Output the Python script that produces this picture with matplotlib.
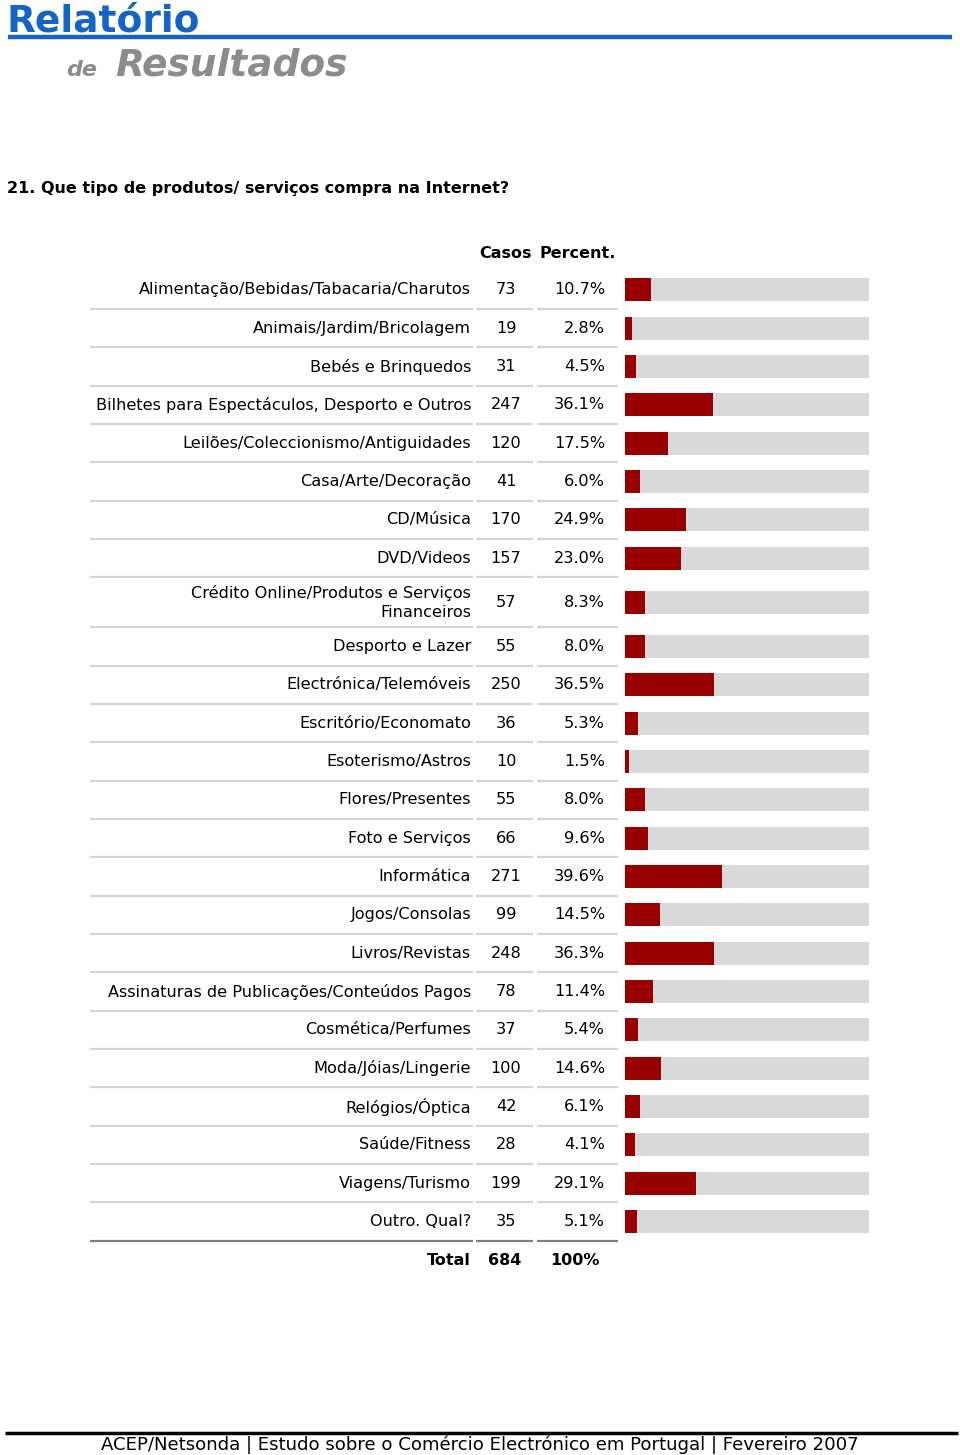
import numpy as np
import matplotlib
matplotlib.use('Agg')
import matplotlib.pyplot as plt

categories = ['Alimentação/Bebidas/Tabacaria/Charutos', 'Animais/Jardim/Bricolagem',
              'Bebés e Brinquedos', 'Bilhetes para Espectáculos, Desporto e Outros',
              'Leilões/Coleccionismo/Antiguidades', 'Casa/Arte/Decoração', 'CD/Música',
              'DVD/Videos', 'Crédito Online/Produtos e Serviços\nFinanceiros',
              'Desporto e Lazer', 'Electrónica/Telemóveis', 'Escritório/Economato',
              'Esoterismo/Astros', 'Flores/Presentes', 'Foto e Serviços', 'Informática',
              'Jogos/Consolas', 'Livros/Revistas',
              'Assinaturas de Publicações/Conteúdos Pagos', 'Cosmética/Perfumes',
              'Moda/Jóias/Lingerie', 'Relógios/Óptica', 'Saúde/Fitness',
              'Viagens/Turismo', 'Outro. Qual?']
casos = [73, 19, 31, 247, 120, 41, 170, 157, 57, 55, 250, 36, 10, 55, 66, 271, 99,
         248, 78, 37, 100, 42, 28, 199, 35]
percent = [10.7, 2.8, 4.5, 36.1, 17.5, 6.0, 24.9, 23.0, 8.3, 8.0, 36.5, 5.3, 1.5,
           8.0, 9.6, 39.6, 14.5, 36.3, 11.4, 5.4, 14.6, 6.1, 4.1, 29.1, 5.1]
total_casos = 684
total_pct = '100%'

W, H = 960, 1455
fig = plt.figure(figsize=(W / 100, H / 100), dpi=100)
ax = fig.add_axes([0, 0, 1, 1])
ax.set_xlim(0, W)
ax.set_ylim(H, 0)
ax.axis('off')

# header
ax.text(7, 22, 'Relatório', color='#1464c8', fontsize=27, fontweight='bold',
        family='DejaVu Sans', va='center', ha='left')
ax.plot([8, 952], [37, 37], color='#1464c8', lw=3.2, solid_capstyle='butt')
ax.text(66, 70, 'de', color='#8c8c8c', fontsize=16, fontweight='bold', style='italic',
        family='DejaVu Sans', va='center', ha='left')
ax.text(115, 66, 'Resultados', color='#8c8c8c', fontsize=27, fontweight='bold',
        style='italic', family='DejaVu Sans', va='center', ha='left')

ax.text(7, 188, '21. Que tipo de produtos/ serviços compra na Internet?', fontsize=11.5,
        fontweight='bold', family='DejaVu Sans', va='center', ha='left')

# row geometry
heights = np.array([50.0 if '\n' in c else 38.33 for c in categories])
tops = 270.8 + np.concatenate([[0], np.cumsum(heights)[:-1]])
centers = tops + heights / 2
bottoms = tops + heights

fs = 11.6
ax.text(506, 253, 'Casos', fontsize=11.5, fontweight='bold', ha='center', va='center')
ax.text(578, 253, 'Percent.', fontsize=11.5, fontweight='bold', ha='center', va='center')

for i, (c, n, p) in enumerate(zip(categories, casos, percent)):
    y = centers[i]
    ax.text(471, y, c, fontsize=fs, ha='right', va='center', linespacing=1.35)
    ax.text(506, y, str(n), fontsize=fs, ha='center', va='center')
    ax.text(605, y, f'{p:.1f}%', fontsize=fs, ha='right', va='center')
    col = '#7f7f7f' if i == len(categories) - 1 else '#d4d4d4'
    yb = bottoms[i]
    for x0, x1 in [(90, 473), (476, 533), (537, 618)]:
        ax.plot([x0, x1], [yb, yb], color=col, lw=1.6, solid_capstyle='butt')

ty = bottoms[-1] + 20
ax.text(471, ty, 'Total', fontsize=11.5, fontweight='bold', ha='right', va='center')
ax.text(505, ty, str(total_casos), fontsize=11.5, fontweight='bold', ha='center', va='center')
ax.text(600, ty, total_pct, fontsize=11.5, fontweight='bold', ha='right', va='center')

# bars
axb = fig.add_axes([625 / W, 0, 244 / W, 1])
axb.set_xlim(0, 100)
axb.set_ylim(H, 0)
axb.axis('off')
axb.barh(centers, [100] * len(percent), height=23, color='#d9d9d9', left=0)
axb.barh(centers, percent, height=23, color='#990000', left=0)

# footer
ax.plot([5, 958], [1433, 1433], color='black', lw=2.5, solid_capstyle='butt')
ax.text(480, 1445, 'ACEP/Netsonda | Estudo sobre o Comércio Electrónico em Portugal | Fevereiro 2007',
        fontsize=13.1, ha='center', va='center', family='DejaVu Sans')

fig.savefig('out.png', dpi=100)
